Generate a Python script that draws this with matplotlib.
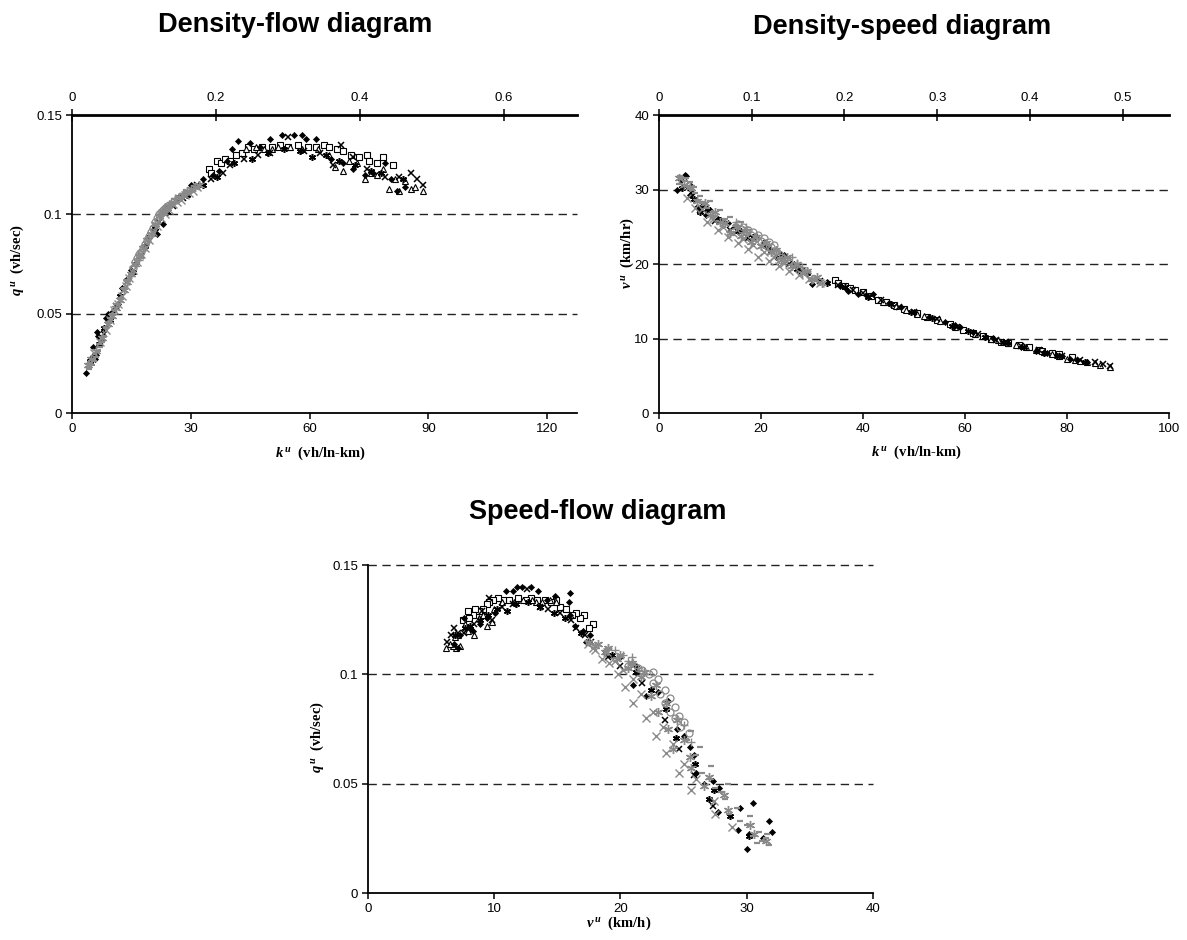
import matplotlib.pyplot as plt

plt.rcParams['font.family'] = ['Liberation Sans', 'DejaVu Sans']
plt.rcParams['mathtext.fontset'] = 'custom'
plt.rcParams['mathtext.it'] = 'Liberation Serif:italic:bold'
plt.rcParams['mathtext.rm'] = 'Liberation Serif:bold'
plt.rcParams['mathtext.bf'] = 'Liberation Serif:bold'

# each observation: density k (vh/ln-km), flow q (vh/sec), speed v (km/h)
# black filled diamonds
dia_k = [3.5, 4.3, 5.0, 5.3, 6.2, 6.5, 5.8, 6.0, 7.5, 8.5, 9.2, 10.0, 11.5, 12.5, 13.5,
         15.0, 16.0, 19.0, 20.5, 21.5, 23.0, 24.5, 26.5, 30.0, 33.0, 35.5, 37.0, 39.0,
         40.5, 42.0, 45.0, 47.5, 50.0, 53.0, 56.0, 58.0, 59.0, 61.5, 65.5, 68.5, 71.0,
         74.0, 76.0, 79.0, 80.5, 82.0, 84.0]
dia_q = [0.020, 0.025, 0.028, 0.033, 0.041, 0.039, 0.027, 0.029, 0.037, 0.048, 0.050,
         0.051, 0.055, 0.063, 0.067, 0.072, 0.075, 0.088, 0.092, 0.090, 0.095, 0.104,
         0.108, 0.115, 0.118, 0.120, 0.122, 0.127, 0.133, 0.137, 0.136, 0.134, 0.138,
         0.140, 0.140, 0.140, 0.138, 0.138, 0.128, 0.126, 0.123, 0.120, 0.121, 0.126,
         0.118, 0.112, 0.114]
dia_v = [30.0, 31.3, 32.0, 31.8, 30.5, 29.5, 30.2, 29.3, 27.7, 27.8, 26.6, 27.3, 26.0,
         25.8, 25.5, 25.0, 24.5, 23.8, 23.0, 22.0, 21.0, 21.2, 20.0, 17.3, 17.6, 17.0,
         16.4, 16.0, 15.9, 16.0, 14.8, 14.2, 13.5, 12.9, 12.2, 11.8, 11.5, 10.9, 10.1,
         9.4, 8.9, 8.3, 8.1, 7.6, 7.3, 7.1, 6.8]

# black open squares
sq_k = [34.5, 35.0, 36.5, 37.5, 38.5, 40.0, 41.5, 43.0, 44.5, 46.0, 48.0, 50.5, 52.5,
        54.5, 57.0, 59.5, 61.5, 63.5, 65.0, 67.0, 68.5, 70.5, 72.5, 74.5, 75.0, 77.0,
        78.5, 81.0]
sq_q = [0.123, 0.121, 0.127, 0.126, 0.128, 0.127, 0.130, 0.131, 0.134, 0.133, 0.134,
        0.134, 0.135, 0.134, 0.135, 0.134, 0.134, 0.135, 0.134, 0.133, 0.132, 0.130,
        0.129, 0.130, 0.127, 0.126, 0.129, 0.125]
sq_v = [17.8, 17.5, 17.1, 16.8, 16.5, 16.2, 15.7, 15.2, 14.9, 14.5, 14.0, 13.4, 12.9,
        12.5, 11.9, 11.2, 10.7, 10.3, 9.9, 9.6, 9.4, 9.1, 8.8, 8.5, 8.3, 8.0, 7.9, 7.5]

# black open triangles
tri_k = [44.0, 46.5, 48.5, 50.5, 52.0, 55.0, 58.0, 62.0, 65.0, 66.5, 68.5, 70.0, 72.0,
         74.0, 75.5, 77.0, 78.5, 80.0, 81.5, 82.5, 84.0, 85.5, 86.5, 88.5]
tri_q = [0.133, 0.134, 0.133, 0.133, 0.134, 0.134, 0.133, 0.133, 0.130, 0.124, 0.122,
         0.127, 0.126, 0.118, 0.121, 0.120, 0.123, 0.113, 0.118, 0.112, 0.117, 0.113,
         0.114, 0.112]
tri_v = [14.9, 14.4, 13.8, 13.3, 13.0, 12.3, 11.6, 10.6, 10.0, 9.8, 9.4, 9.1, 8.8, 8.4,
         8.2, 7.9, 7.7, 7.3, 7.1, 7.0, 6.9, 6.7, 6.5, 6.2]

# black crosses
x_k = [8.0, 11.0, 14.0, 17.5, 22.0, 25.5, 28.0, 31.5, 35.0, 38.0, 40.0, 43.5, 47.0,
       50.0, 54.5, 58.5, 62.5, 66.0, 68.0, 71.0, 74.5, 79.0, 82.5, 85.5, 87.0, 88.5]
x_q = [0.040, 0.054, 0.066, 0.079, 0.096, 0.104, 0.108, 0.115, 0.118, 0.121, 0.125,
       0.128, 0.130, 0.131, 0.139, 0.132, 0.131, 0.125, 0.135, 0.129, 0.123, 0.119,
       0.119, 0.121, 0.118, 0.115]
x_v = [27.3, 25.8, 24.6, 23.5, 21.7, 20.0, 19.0, 17.7, 17.2, 16.5, 16.1, 15.2, 14.3,
       13.6, 12.6, 11.5, 10.6, 9.8, 9.6, 9.0, 8.4, 7.6, 7.1, 6.8, 6.6, 6.3]

# black stars
st_k = [4.5, 6.8, 8.0, 9.5, 12.0, 15.5, 18.5, 21.0, 24.0, 27.0, 29.0, 33.0, 36.5, 41.0,
        45.5, 49.5, 53.5, 57.5, 60.5, 64.0, 67.5, 71.5, 75.5, 78.0, 83.5]
st_q = [0.026, 0.035, 0.043, 0.047, 0.059, 0.071, 0.084, 0.093, 0.101, 0.109, 0.110,
        0.115, 0.119, 0.126, 0.128, 0.131, 0.133, 0.132, 0.129, 0.130, 0.127, 0.125,
        0.122, 0.121, 0.118]
st_v = [30.2, 28.7, 27.0, 27.4, 25.9, 24.4, 23.6, 22.4, 21.2, 19.3, 18.8, 17.5, 16.9,
        15.6, 14.7, 13.6, 12.7, 11.7, 11.0, 10.2, 9.5, 8.9, 8.1, 7.7, 6.9]

# grey crosses
gx_k = [5.5, 7.0, 8.5, 9.5, 10.5, 11.5, 12.5, 13.5, 14.5, 15.5, 16.5, 17.5, 18.5, 19.5,
        20.5, 21.5, 22.5, 23.5, 24.5, 25.5, 26.5, 27.5, 28.5, 29.5, 30.5, 31.5]
gx_q = [0.030, 0.036, 0.042, 0.047, 0.052, 0.055, 0.059, 0.064, 0.068, 0.072, 0.076,
        0.080, 0.083, 0.087, 0.091, 0.094, 0.098, 0.100, 0.102, 0.105, 0.106, 0.107,
        0.110, 0.111, 0.112, 0.114]
gx_v = [28.8, 27.5, 27.4, 25.6, 26.0, 24.6, 25.0, 23.6, 24.2, 22.8, 23.4, 22.0, 22.6,
        21.0, 21.6, 20.4, 21.0, 19.8, 20.2, 19.1, 19.6, 18.5, 18.9, 18.0, 17.8, 17.4]

# grey stars
gs_k = [4.0, 4.8, 6.0, 7.5, 9.0, 10.0, 11.0, 12.0, 13.0, 14.0, 15.0, 16.0, 17.0, 18.0,
        19.0, 20.0, 21.0, 22.0, 23.0, 24.0, 25.0, 26.0, 27.0, 28.0, 29.0, 30.0, 31.0, 32.0]
gs_q = [0.024, 0.027, 0.031, 0.038, 0.045, 0.049, 0.053, 0.057, 0.062, 0.066, 0.070,
        0.075, 0.079, 0.083, 0.087, 0.090, 0.095, 0.099, 0.101, 0.103, 0.105, 0.107,
        0.109, 0.110, 0.112, 0.113, 0.114, 0.115]
gs_v = [31.5, 30.6, 30.3, 28.5, 28.2, 26.6, 27.0, 25.6, 25.5, 24.2, 25.0, 23.8, 24.5,
        23.0, 23.6, 22.4, 22.8, 21.6, 21.9, 20.6, 20.9, 19.7, 20.0, 18.8, 19.0, 18.0,
        18.2, 17.5]

# grey open circles
go_k = [15.5, 16.0, 16.5, 17.0, 17.5, 18.0, 18.5, 19.0, 19.5, 20.0, 20.5, 21.0, 21.5,
        22.0, 22.5, 23.0, 23.5, 24.0]
go_q = [0.073, 0.076, 0.078, 0.080, 0.081, 0.083, 0.085, 0.087, 0.089, 0.091, 0.093,
        0.096, 0.098, 0.100, 0.101, 0.102, 0.103, 0.104]
go_v = [25.4, 24.7, 25.0, 24.3, 24.6, 23.9, 24.3, 23.5, 23.9, 23.1, 23.5, 22.6, 23.0,
        22.3, 22.6, 21.7, 21.4, 20.6]

# grey plus signs
gp_k = [15.0, 17.0, 22.5, 23.5, 24.5, 25.0, 26.0, 27.0, 28.0, 29.0]
gp_q = [0.069, 0.077, 0.100, 0.103, 0.105, 0.106, 0.108, 0.109, 0.111, 0.112]
gp_v = [25.6, 25.0, 21.8, 21.4, 21.0, 20.6, 20.9, 20.2, 19.6, 19.0]

# grey dashes
gd_k = [4.0, 4.2, 4.5, 5.0, 5.2, 5.5, 6.0, 6.5, 6.8, 7.0, 7.5, 8.0, 8.5, 9.0, 9.5, 10.0,
        10.5, 11.0, 12.0, 13.0, 14.0, 15.0, 16.0]
gd_q = [0.023, 0.022, 0.025, 0.024, 0.027, 0.026, 0.028, 0.031, 0.035, 0.033, 0.036,
        0.039, 0.043, 0.046, 0.048, 0.050, 0.052, 0.055, 0.058, 0.063, 0.067, 0.070, 0.074]
gd_v = [30.8, 31.8, 31.5, 31.2, 31.6, 30.5, 31.0, 30.0, 30.3, 29.5, 28.6, 29.2, 28.3,
        28.0, 27.5, 28.5, 27.0, 26.5, 27.2, 26.0, 26.3, 25.3, 25.6]

GREY = '#8a8a8a'
star = (6, 2, 0)

series = [
    (sq_k, sq_q, sq_v, dict(marker='s', ms=4.3, mew=0.8, color='black', mfc='white')),
    (tri_k, tri_q, tri_v, dict(marker='^', ms=4.6, mew=0.8, color='black', mfc='white')),
    (x_k, x_q, x_v, dict(marker='x', ms=4.3, mew=1.1, color='black')),
    (st_k, st_q, st_v, dict(marker=star, ms=5, mew=1.1, color='black')),
    (dia_k, dia_q, dia_v, dict(marker='D', ms=3.1, mew=0.5, color='black')),
    (gd_k, gd_q, gd_v, dict(marker='_', ms=4, mew=1.6, color=GREY)),
    (gs_k, gs_q, gs_v, dict(marker=star, ms=6.5, mew=1.0, color=GREY)),
    (gx_k, gx_q, gx_v, dict(marker='x', ms=5.5, mew=1.0, color=GREY)),
    (go_k, go_q, go_v, dict(marker='o', ms=5, mew=0.9, color=GREY, mfc='none')),
    (gp_k, gp_q, gp_v, dict(marker='+', ms=5.5, mew=1.0, color=GREY)),
]

fig = plt.figure(figsize=(11.87, 9.40), dpi=100)
ax1 = fig.add_axes([0.0607, 0.5606, 0.4254, 0.3170])
ax2 = fig.add_axes([0.5552, 0.5606, 0.4297, 0.3170])
ax3 = fig.add_axes([0.3100, 0.0500, 0.4254, 0.3489])

for k, q, v, st in series:
    ax1.plot(k, q, ls='none', **st)
    ax2.plot(k, v, ls='none', **st)
    ax3.plot(v, q, ls='none', **st)


def setup(ax, xlim, xticks, ylim, yticks, ylabels, grid, top_ticks=None):
    ax.set_xlim(*xlim)
    ax.set_ylim(*ylim)
    ax.set_xticks(xticks)
    ax.set_xticklabels([str(t) for t in xticks])
    ax.set_yticks(yticks)
    ax.set_yticklabels(ylabels)
    for g in grid:
        ax.axhline(g, color='#222222', lw=1.0, dashes=(6, 4), clip_on=False, zorder=0)
    ax.spines['right'].set_visible(False)
    ax.spines['top'].set_visible(False)
    for s in ('left', 'bottom'):
        ax.spines[s].set_linewidth(1.3)
    ax.tick_params(axis='both', direction='out', length=4, width=1.1,
                   labelsize=9.5, pad=3)
    if top_ticks is not None:
        sec = ax.secondary_xaxis('top', functions=(lambda x: x * 0.0055,
                                                    lambda t: t / 0.0055))
        sec.set_xticks(top_ticks)
        sec.set_xticklabels(['0' if t == 0 else ('%g' % t) for t in top_ticks])
        sec.spines['top'].set_linewidth(2.0)
        sec.tick_params(direction='inout', length=8, width=1.1, labelsize=9.5, pad=4)


setup(ax1, (0, 127.5), [0, 30, 60, 90, 120], (0, 0.15), [0, 0.05, 0.1, 0.15],
      ['0', '0.05', '0.1', '0.15'], [0.05, 0.1], top_ticks=[0, 0.2, 0.4, 0.6])
setup(ax2, (0, 100), [0, 20, 40, 60, 80, 100], (0, 40), [0, 10, 20, 30, 40],
      ['0', '10', '20', '30', '40'], [10, 20, 30], top_ticks=[0, 0.1, 0.2, 0.3, 0.4, 0.5])
setup(ax3, (0, 40), [0, 10, 20, 30, 40], (0, 0.15), [0, 0.05, 0.1, 0.15],
      ['0', '0.05', '0.1', '0.15'], [0.05, 0.1, 0.15])

tkw = dict(ha='center', va='center', fontsize=19.5, fontweight='bold')
fig.text(0.2485, 0.9734, 'Density-flow diagram', **tkw)
fig.text(0.7600, 0.9713, 'Density-speed diagram', **tkw)
fig.text(0.5038, 0.4553, 'Speed-flow diagram', **tkw)

lkw = dict(ha='center', va='center', fontsize=10.5, fontweight='bold',
           family='Liberation Serif')
fig.text(0.2696, 0.518, r'$k^{\,u}$  (vh/ln-km)', **lkw)
fig.text(0.7717, 0.519, r'$k^{\,u}$  (vh/ln-km)', **lkw)
fig.text(0.5215, 0.018, r'$v^{\,u}$  (km/h)', **lkw)
fig.text(0.0143, 0.7234, r'$q^{\,u}$  (vh/sec)', rotation=90, **lkw)
fig.text(0.5282, 0.7309, r'$v^{\,u}$  (km/hr)', rotation=90, **lkw)
fig.text(0.2670, 0.2160, r'$q^{\,u}$  (vh/sec)', rotation=90, **lkw)

fig.savefig('out.png', dpi=100)
